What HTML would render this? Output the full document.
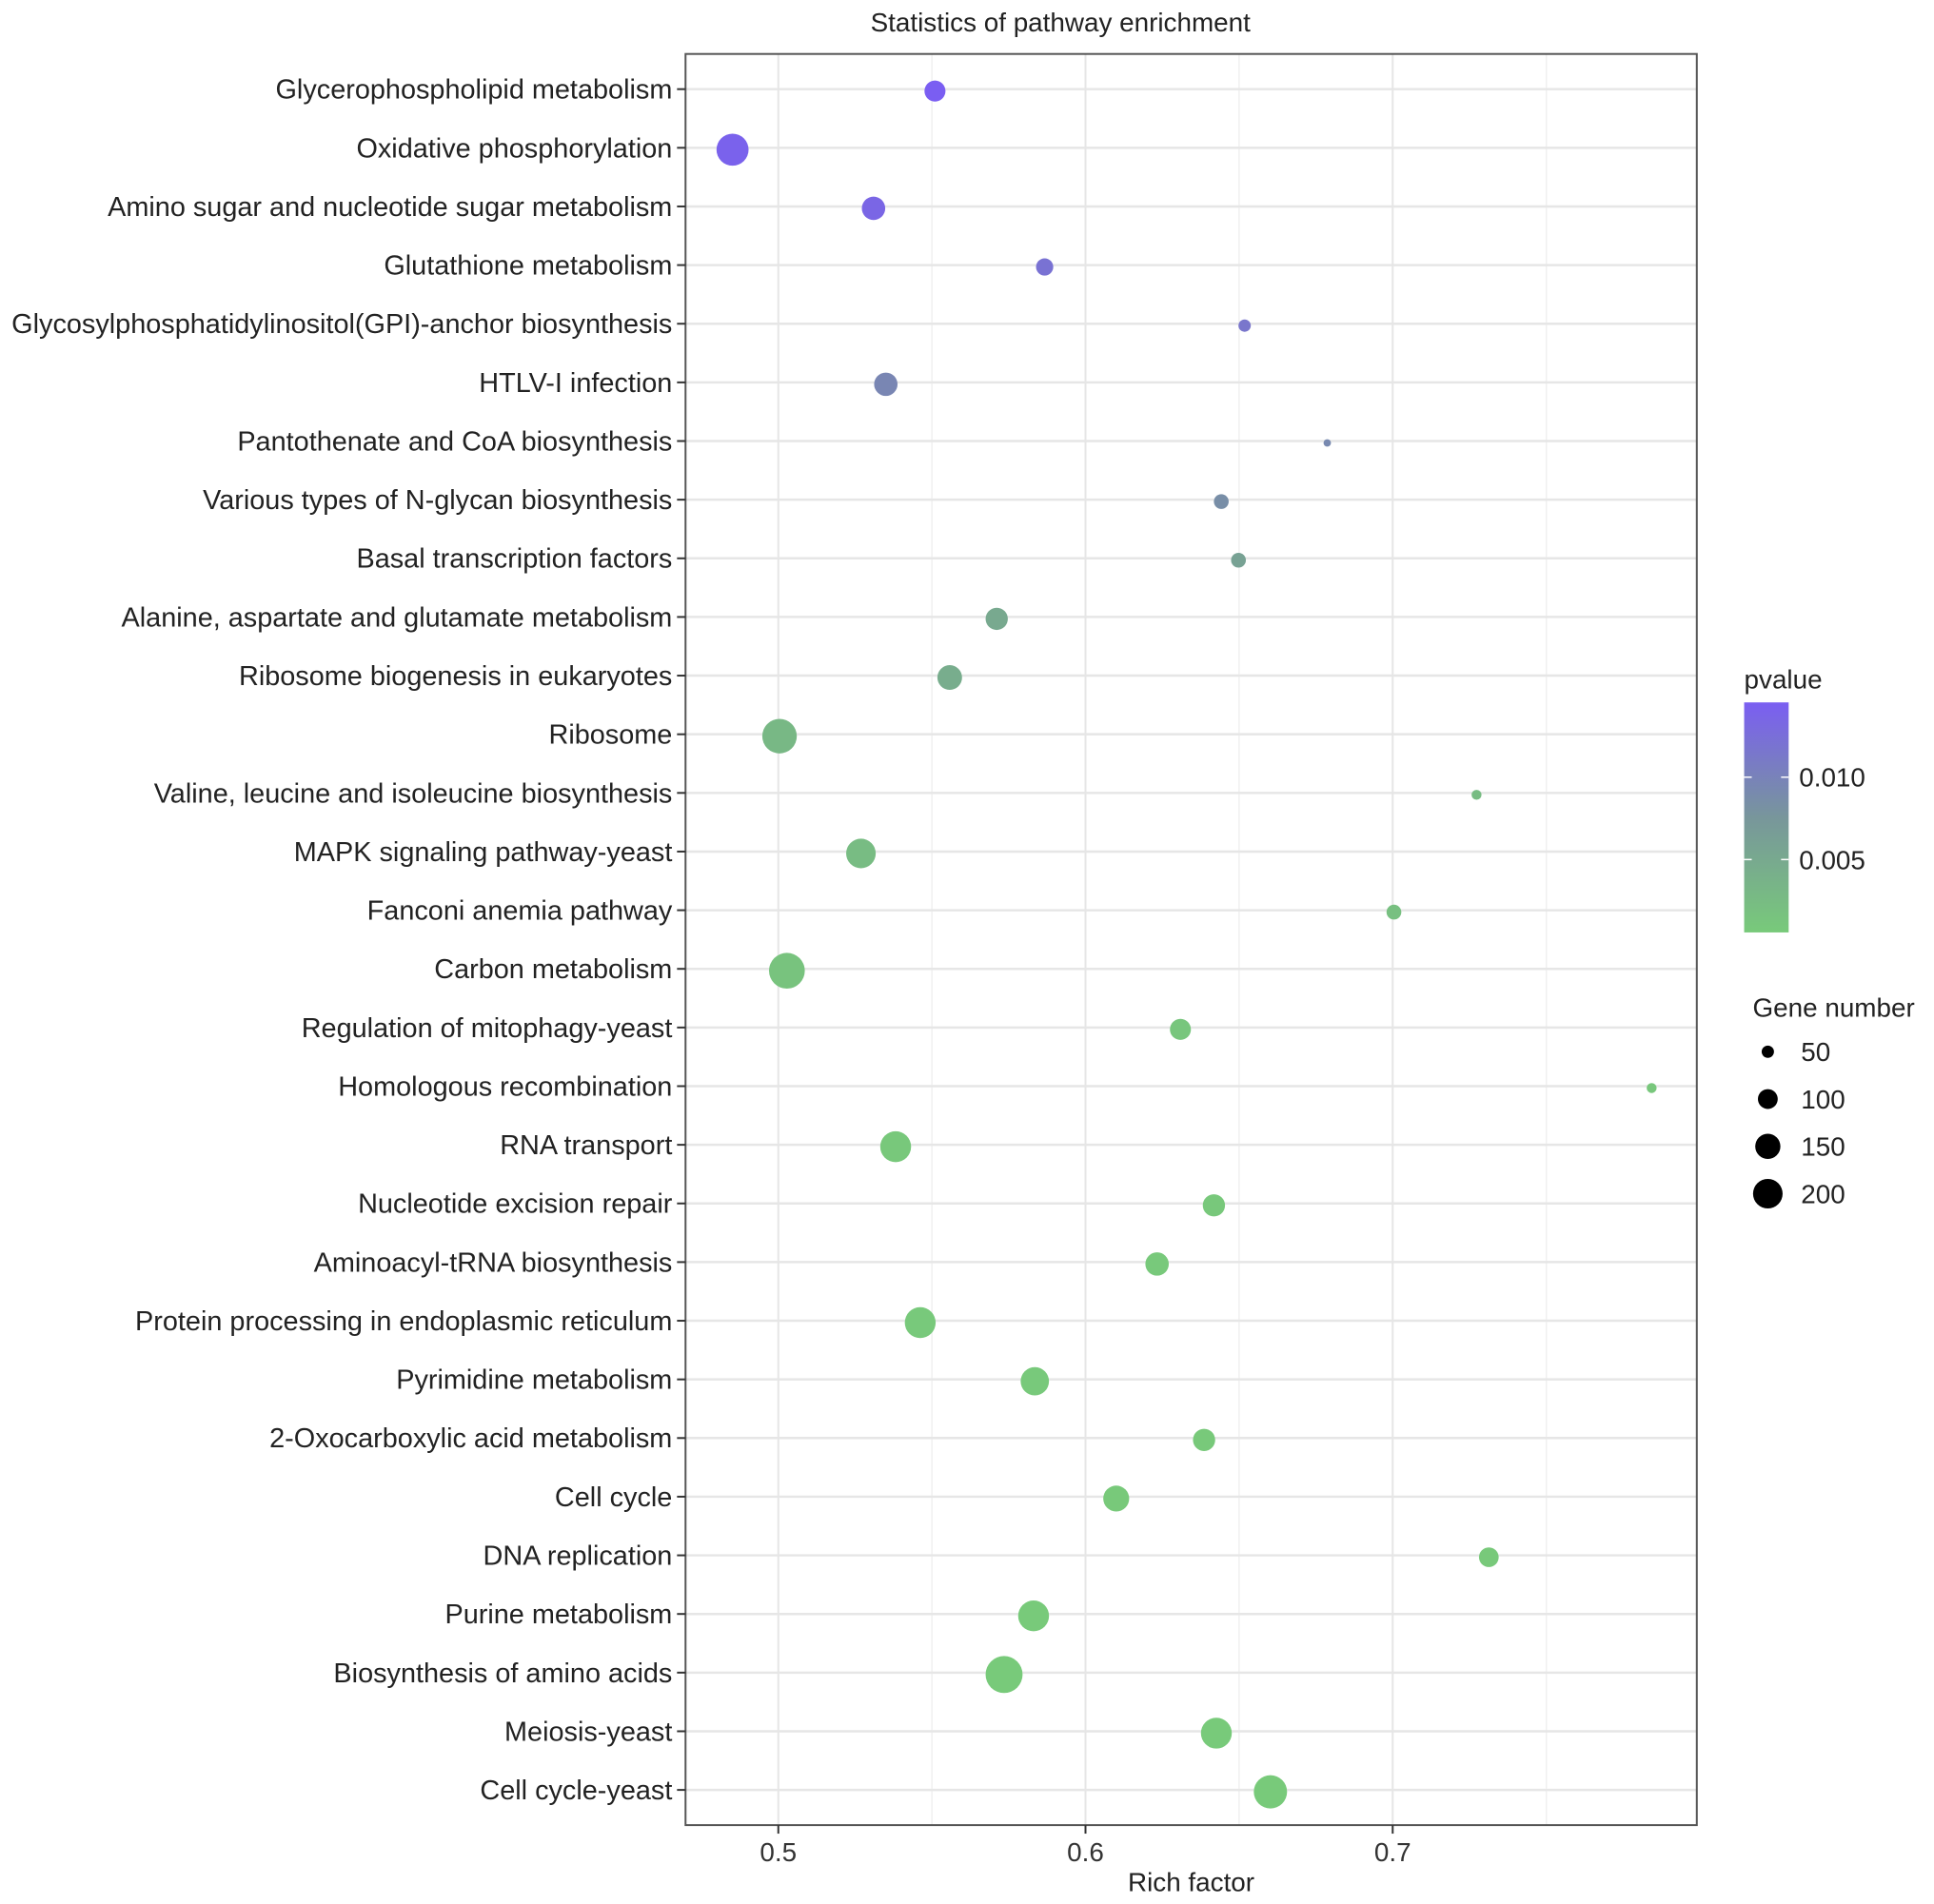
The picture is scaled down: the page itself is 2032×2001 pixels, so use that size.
<!DOCTYPE html>
<html><head><meta charset="utf-8"><style>
html,body{margin:0;padding:0;background:#fff}
svg{display:block;font-family:"Liberation Sans",Arial,sans-serif}
</style></head><body>
<svg id="chart" width="2032" height="2001" viewBox="0 0 2032 2001">
<g transform="scale(0.99486)">
<text x="1120" y="33" font-size="28" text-anchor="middle" fill="#222">Statistics of pathway enrichment</text>
<g id="grid"></g>
<g id="dots"></g>
<rect x="724" y="57" width="1068" height="1871" fill="none" stroke="#555" stroke-width="2"/>
<g id="axes"></g>
<text x="1258" y="1998" font-size="28" text-anchor="middle" fill="#222">Rich factor</text>
<defs><linearGradient id="cg" x1="0" y1="1" x2="0" y2="0"><stop offset="0" stop-color="rgb(120,202,122)"/><stop offset="0.5" stop-color="rgb(120,150,155)"/><stop offset="1" stop-color="rgb(122,94,242)"/></linearGradient></defs>
<g>
<text x="1842" y="727" font-size="28" fill="#222">pvalue</text>
<rect x="1842" y="742" width="47" height="243" fill="url(#cg)"/>
<line x1="1842" y1="821" x2="1850" y2="821" stroke="#fff" stroke-width="1.5"/><line x1="1881" y1="821" x2="1889" y2="821" stroke="#fff" stroke-width="1.5"/>
<line x1="1842" y1="908" x2="1850" y2="908" stroke="#fff" stroke-width="1.5"/><line x1="1881" y1="908" x2="1889" y2="908" stroke="#fff" stroke-width="1.5"/>
<text x="1900" y="831" font-size="28" fill="#222">0.010</text>
<text x="1900" y="918" font-size="28" fill="#222">0.005</text>
</g>
<g id="sizeLegend">
<text x="1851" y="1074" font-size="28" fill="#222">Gene number</text>
</g>
</g>
</svg>
<script>
const categories=["Glycerophospholipid metabolism","Oxidative phosphorylation","Amino sugar and nucleotide sugar metabolism","Glutathione metabolism","Glycosylphosphatidylinositol(GPI)-anchor biosynthesis","HTLV-I infection","Pantothenate and CoA biosynthesis","Various types of N-glycan biosynthesis","Basal transcription factors","Alanine, aspartate and glutamate metabolism","Ribosome biogenesis in eukaryotes","Ribosome","Valine, leucine and isoleucine biosynthesis","MAPK signaling pathway-yeast","Fanconi anemia pathway","Carbon metabolism","Regulation of mitophagy-yeast","Homologous recombination","RNA transport","Nucleotide excision repair","Aminoacyl-tRNA biosynthesis","Protein processing in endoplasmic reticulum","Pyrimidine metabolism","2-Oxocarboxylic acid metabolism","Cell cycle","DNA replication","Purine metabolism","Biosynthesis of amino acids","Meiosis-yeast","Cell cycle-yeast"];
const richFactor=[0.551,0.4851,0.531,0.5867,0.6518,0.535,0.6787,0.6442,0.6498,0.5711,0.5558,0.5004,0.7273,0.5269,0.7004,0.5028,0.6309,0.7843,0.5382,0.6418,0.6233,0.5462,0.5835,0.6386,0.61,0.7313,0.5831,0.5735,0.6426,0.6602];
const geneNumber=[110,232,132,80,50,132,30,64,64,121,145,266,39,200,64,284,110,39,216,121,132,216,185,121,158,99,216,302,216,248];
const pvalue=[0.0145,0.014,0.0135,0.012,0.0115,0.0095,0.0092,0.0085,0.006,0.005,0.0045,0.003,0.0025,0.0025,0.002,0.0015,0.0012,0.001,0.0009,0.0009,0.0008,0.0008,0.0008,0.0007,0.0007,0.0007,0.0006,0.0006,0.0006,0.0006];
const xTicks=[0.5,0.6,0.7];
const xTickLabels=["0.5","0.6","0.7"];
const xMinor=[0.55,0.65,0.75];
const sizeBreaks=[50,100,150,200];
const NS="http://www.w3.org/2000/svg";
const L=724,R=1792,T=57,B=1928;
const xMin=0.4698,xMax=0.799;
function xs(v){return L+(v-xMin)/(xMax-xMin)*(R-L);}
const step=(B-T)/(categories.length-1+1.2);
function ys(i){return T+0.6*step+i*step;}
function dia(n){return 1.3026*Math.sqrt(Math.max(16,3.17*n-58.7));}
const pMin=0.0006,pMax=0.0145;
function col(p){let t=(p-pMin)/(pMax-pMin);t=Math.max(0,Math.min(1,t));
 const a=[120,202,122],m=[120,150,155],b=[122,94,242];let c;
 if(t<0.5){const u=t/0.5;c=a.map((v,k)=>Math.round(v+(m[k]-v)*u));}else{const u=(t-0.5)/0.5;c=m.map((v,k)=>Math.round(v+(b[k]-v)*u));}
 return `rgb(${c[0]},${c[1]},${c[2]})`;}
function mk(tag,attrs,parent){const e=document.createElementNS(NS,tag);for(const k in attrs)e.setAttribute(k,attrs[k]);parent.appendChild(e);return e;}
const grid=document.getElementById('grid'),dots=document.getElementById('dots'),axes=document.getElementById('axes'),sl=document.getElementById('sizeLegend');
xMinor.forEach(v=>{const l=mk('line',{x1:xs(v),x2:xs(v),y1:T,y2:B,stroke:'#f0f0f0','stroke-width':1.5},grid);

});
xTicks.forEach((v,i)=>{const l=mk('line',{x1:xs(v),x2:xs(v),y1:T,y2:B,stroke:'#e6e6e6','stroke-width':2},grid);


const tk=mk('line',{x1:xs(v),x2:xs(v),y1:B,y2:B+9,stroke:'#333','stroke-width':2},axes);


const t=mk('text',{x:xs(v),y:B+38,'font-size':28,'text-anchor':'middle',fill:'#333'},axes);t.textContent=xTickLabels[i];

});
categories.forEach((c,i)=>{const y=ys(i);
const g=mk('line',{x1:L,x2:R,y1:y,y2:y,stroke:'#e6e6e6','stroke-width':2.5},grid);


const tk=mk('line',{x1:L-9,x2:L,y1:y,y2:y,stroke:'#333','stroke-width':2},axes);


const t=mk('text',{x:L-14,y:y+10,'font-size':29,'text-anchor':'end',fill:'#222'},axes);t.textContent=c;


const d=mk('circle',{cx:xs(richFactor[i]),cy:y+2,r:dia(geneNumber[i])/2,fill:col(pvalue[i])},dots);

});
const ly=[1111,1161,1211,1261];
sizeBreaks.forEach((n,i)=>{const c=mk('circle',{cx:1867,cy:ly[i],r:dia(n)/2,fill:'#000'},sl);


const t=mk('text',{x:1902,y:ly[i]+10,'font-size':28,fill:'#222'},sl);t.textContent=String(n);

});
</script>
</body></html>
